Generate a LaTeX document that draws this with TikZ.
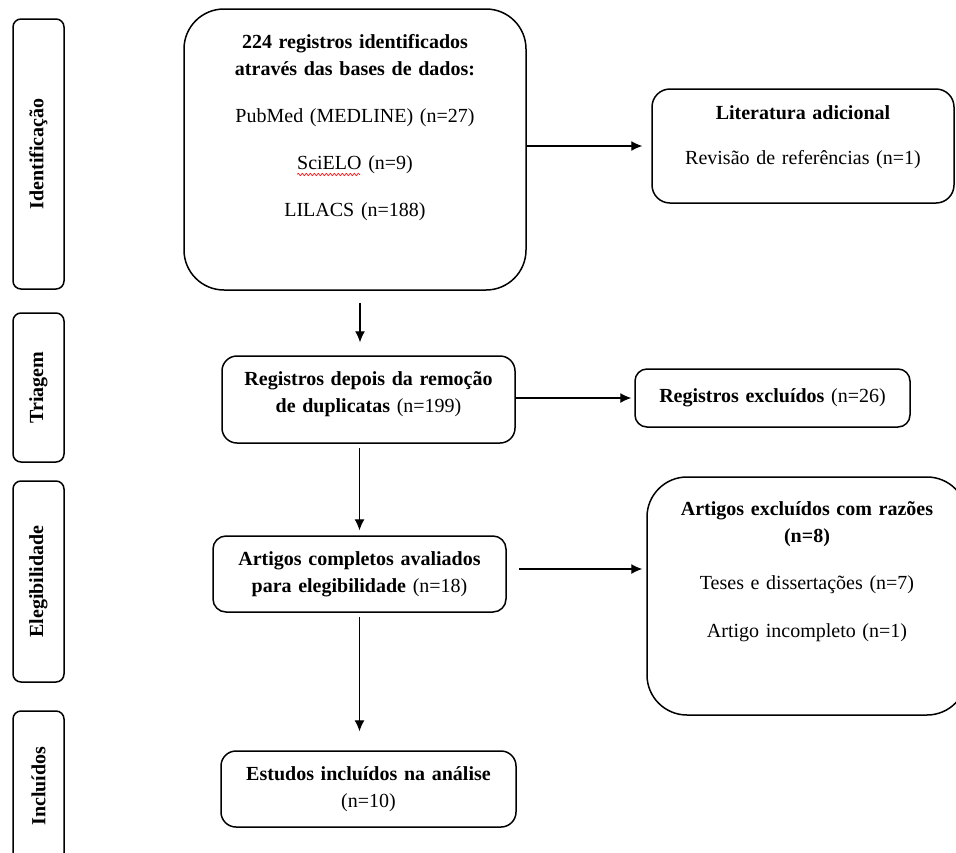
\documentclass[tikz,border=0pt]{standalone}
\usepackage{fontspec}
\setmainfont{Liberation Serif}
\usetikzlibrary{arrows.meta, positioning, decorations.pathmorphing}

\tikzset{
  caixa/.style={draw, line width=1.5pt, rounded corners=#1, align=center, inner sep=0pt,
    font=\fontsize{20}{27}\selectfont},
  fase/.style={draw, line width=1.5pt, rounded corners=8pt, rotate=90, inner sep=0pt,
    minimum height=51pt, font=\fontsize{20}{27}\selectfont\bfseries},
  seta/.style={-{Latex[length=11pt,width=10pt]}, line width=1.1pt},
  onda/.style={red, line width=0.6pt, decorate, decoration={snake, amplitude=1.2pt, segment length=4pt}},
}

\begin{document}
\begin{tikzpicture}[x=1pt,y=-1pt,node distance=2cm,on grid]
    \useasboundingbox (0,0) rectangle (956,852);

      % fases
      \node[fase, minimum width=270pt] (fIdent) at (38.5,154)   {Identificação};
      \node[fase, minimum width=149pt] (fTriag) at (38.5,387.5) {Triagem};
      \node[fase, minimum width=201pt] (fEleg)  at (38.5,581.5) {Elegibilidade};
      \node[fase, minimum width=150pt] (fIncl)  at (38.5,786)   {Incluídos};

      % fluxo principal
      \node[caixa=40pt, minimum width=342pt, minimum height=281pt, text width=322pt] (bases) at (355,149.5)
        {\textbf{224 registros identificados}\\ \textbf{através das bases de dados:}\\[20pt]
         PubMed (MEDLINE) (n=27)\\[20pt] SciELO (n=9)\\[20pt] LILACS (n=188)\par\kern44pt};
      \node[caixa=15pt, minimum width=293pt, minimum height=87pt, text width=283pt] (dup)
        [below right=250pt and 13.5pt of bases]
        {\textbf{Registros depois da remoção}\\ \textbf{de duplicatas} (n=199)\par\kern11pt};
      \node[caixa=13pt, minimum width=293pt, minimum height=76pt, text width=283pt] (aval)
        [below left=174.5pt and 9pt of dup]
        {\textbf{Artigos completos avaliados}\\ \textbf{para elegibilidade} (n=18)};
      \node[caixa=15pt, minimum width=295pt, minimum height=76pt, text width=285pt] (estudos)
        [below right=215pt and 9pt of aval]
        {\textbf{Estudos incluídos na análise}\\ (n=10)};

      % caixas laterais
      \node[caixa=18pt, minimum width=302pt, minimum height=114pt, text width=290pt] (lit)
        [above right=3.5pt and 448pt of bases]
        {\textbf{Literatura adicional}\\[18pt] Revisão de referências (n=1)\par\kern17pt};
      \node[caixa=12pt, minimum width=275pt, minimum height=58pt, text width=265pt] (excl)
        [above right=1.5pt and 404pt of dup]
        {\textbf{Registros excluídos} (n=26)};
      \node[caixa=40pt, minimum width=320pt, minimum height=238pt, text width=300pt] (razoes)
        [below right=22pt and 447.5pt of aval]
        {\textbf{Artigos excluídos com razões}\\ \textbf{(n=8)}\\[20pt]
         Teses e dissertações (n=7)\\[21pt] Artigo incompleto (n=1)\par\kern49pt};

      % sublinhado do corretor sob SciELO
      \draw[onda] ([shift={(-58,25)}]bases.center) -- ([shift={(5,25)}]bases.center);

      % setas
      \draw[seta, shorten >=9pt] (bases.east |- lit.west) -- (lit.west);
      \draw[seta, shorten <=12pt, shorten >=13pt] ([xshift=5pt]bases.south) -- ([xshift=5pt]bases.south |- dup.north);
      \draw[seta, shorten >=3pt] (dup.east |- excl.west) -- (excl.west);
      \draw[seta, shorten <=4pt, shorten >=5pt] (dup.south -| aval.north) -- (aval.north);
      \draw[seta, shorten <=12pt, shorten >=4pt] ([yshift=5pt]aval.east) -- ([yshift=5pt]aval.east -| razoes.west);
      \draw[seta, shorten <=4pt, shorten >=19pt] (aval.south) -- (aval.south |- estudos.north);
\end{tikzpicture}
\end{document}
